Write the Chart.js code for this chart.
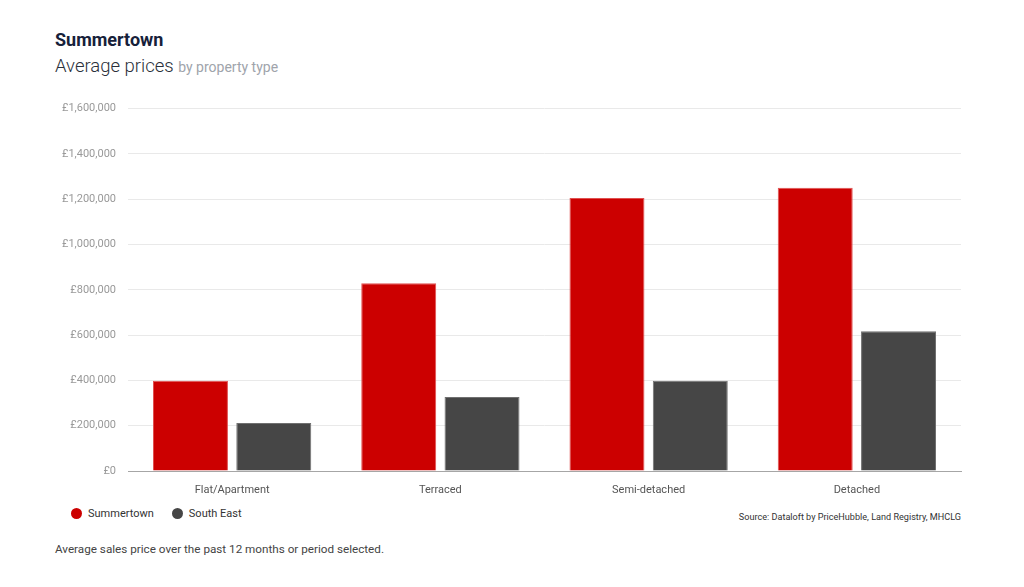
<!DOCTYPE html>
<html>
<head>
<meta charset="utf-8">
<script src="https://cdn.jsdelivr.net/npm/chart.js@4/dist/chart.umd.min.js"></script>
<style>
  html, body { margin: 0; padding: 0; background: #fff; }
  body { width: 1024px; height: 587px; position: relative; overflow: hidden; font-family: Roboto, "Noto Sans", sans-serif; }
  #title { position: absolute; left: 55px; top: 29px; font-size: 18px; font-weight: 700; color: #16213a; white-space: nowrap; }
  #subtitle { position: absolute; left: 55px; top: 55px; font-size: 18.5px; font-weight: 300; color: #2a2f3a; white-space: nowrap; }
  #subtitle span { font-size: 14px; color: #a0a4ab; font-weight: 400; }
  #wrap { position: absolute; left: 55px; top: 90px; width: 910px; height: 416px; }
  #legend { position: absolute; left: 71px; top: 506px; font-size: 11px; color: #333; white-space: nowrap; }
  #legend .item { display: inline-block; margin-right: 18px; vertical-align: middle; }
  #legend .dot { display: inline-block; width: 11px; height: 11px; border-radius: 50%; vertical-align: -2px; margin-right: 6px; }
  #source { position: absolute; right: 63px; top: 512px; font-size: 9.1px; color: #333; white-space: nowrap; }
  #footer { position: absolute; left: 55px; top: 542px; font-size: 11.7px; color: #444; white-space: nowrap; }
</style>
</head>
<body>
<div id="title">Summertown</div>
<div id="subtitle">Average prices <span>by property type</span></div>
<div id="wrap"><canvas id="c"></canvas></div>
<div id="legend"></div>
<div id="source">Source: Dataloft by PriceHubble, Land Registry, MHCLG</div>
<div id="footer">Average sales price over the past 12 months or period selected.</div>
<script>
const categories = ["Flat/Apartment", "Terraced", "Semi-detached", "Detached"];
const seriesNames = ["Summertown", "South East"];
const summertownValues = [398000, 829000, 1205000, 1251000];
const southEastValues = [212000, 327000, 399000, 617000];
const yTickMax = 1600000;
const yTickStep = 200000;
const seriesColors = ["#cc0000", "#464646"];
const seriesBorders = ["#e05050", "#707070"];

const fmt = v => "£" + Number(v).toLocaleString("en-GB");

const datasets = [summertownValues, southEastValues].map((vals, i) => ({
  label: seriesNames[i],
  data: vals,
  backgroundColor: seriesColors[i],
  borderColor: seriesBorders[i],
  borderWidth: 1,
  categoryPercentage: 0.8,
  barPercentage: 0.9
}));

const legend = document.getElementById("legend");
seriesNames.forEach((n, i) => {
  const it = document.createElement("span");
  it.className = "item";
  it.innerHTML = '<span class="dot" style="background:' + seriesColors[i] + '"></span>' + n;
  legend.appendChild(it);
});

new Chart(document.getElementById("c"), {
  type: "bar",
  data: { labels: categories, datasets },
  options: {
    responsive: true,
    maintainAspectRatio: false,
    animation: false,
    layout: { padding: { top: 8, right: 4, left: 0, bottom: 0 } },
    plugins: { legend: { display: false }, tooltip: { enabled: false } },
    scales: {
      x: {
        grid: { display: false, drawTicks: false },
        border: { display: true, color: "#a6a6a6", width: 1 },
        ticks: { color: "#555", font: { family: "Roboto", size: 11 }, padding: 13 },
        afterFit: s => { s.height = 35; }
      },
      y: {
        min: 0,
        max: yTickMax,
        grid: { color: "#e9e9e9", drawTicks: false },
        border: { display: false },
        ticks: { stepSize: yTickStep, color: "#999", font: { family: "Roboto", size: 11 }, padding: 12, callback: v => fmt(v) },
        afterFit: s => { s.width = 73; }
      }
    }
  }
});
</script>
</body>
</html>
